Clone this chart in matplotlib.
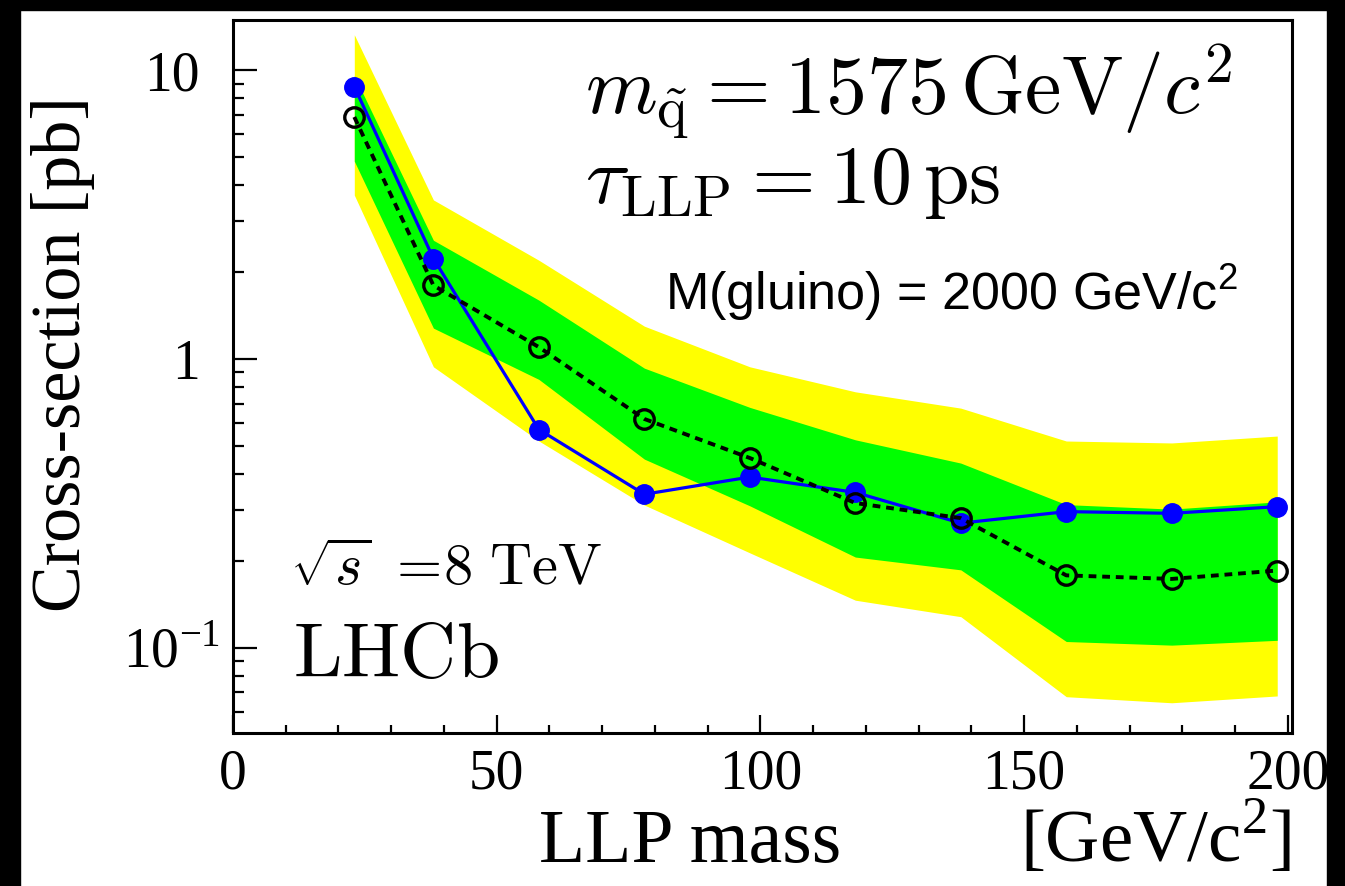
import matplotlib.pyplot as plt
from matplotlib.patches import Rectangle
from matplotlib.ticker import FixedLocator, LogLocator, NullFormatter, MultipleLocator
from matplotlib.transforms import ScaledTranslation

# LLP mass points [GeV/c^2]
mass = [23, 38, 58, 78, 98, 118, 138, 158, 178, 198]

# observed and expected upper limits on the cross-section [pb]
observed = [8.8, 2.23, 0.57, 0.34, 0.39, 0.345, 0.27, 0.296, 0.292, 0.308]
expected = [6.9, 1.8, 1.1, 0.62, 0.454, 0.317, 0.281, 0.178, 0.173, 0.185]

# +-1 sigma and +-2 sigma bands around the expected limit
green_lo = [4.85, 1.28, 0.85, 0.45, 0.31, 0.206, 0.186, 0.105, 0.102, 0.106]
green_hi = [9.6, 2.58, 1.6, 0.93, 0.68, 0.525, 0.436, 0.313, 0.302, 0.32]
yellow_lo = [3.7, 0.94, 0.52, 0.312, 0.213, 0.146, 0.128, 0.0676, 0.0644, 0.068]
yellow_hi = [13.3, 3.56, 2.2, 1.3, 0.94, 0.77, 0.676, 0.52, 0.512, 0.541]

W, H = 1345, 886
fig = plt.figure(figsize=(W / 100, H / 100), dpi=100)
ax = fig.add_axes([233 / W, 1 - 733 / H, (1292 - 233) / W, (733 - 20) / H])

serif = 'Liberation Serif'
plt.rcParams['mathtext.fontset'] = 'custom'
plt.rcParams['mathtext.rm'] = serif

ax.fill_between(mass, yellow_lo, yellow_hi, color='#ffff00', lw=0, zorder=1)
ax.fill_between(mass, green_lo, green_hi, color='#00ff00', lw=0, zorder=2)
ax.plot(mass, observed, color='#0000ff', lw=2.3, marker='o', ms=14,
        mfc='#0000ff', mec='#0000ff', zorder=3)
ax.plot(mass, expected, color='black', lw=2.8, dashes=(2.0, 1.5),
        marker='o', ms=14, mfc='none', mec='black', mew=2.4, zorder=4)

ax.set_yscale('log')
ax.set_xlim(0, 200.8)
ax.set_ylim(0.0506, 14.96)

# axis ticks
ax.xaxis.set_major_locator(MultipleLocator(50))
ax.xaxis.set_minor_locator(MultipleLocator(10))
ax.yaxis.set_major_locator(FixedLocator([0.1, 1, 10]))
ax.yaxis.set_minor_locator(LogLocator(base=10, subs=range(2, 10)))
ax.yaxis.set_minor_formatter(NullFormatter())
ax.set_yticklabels(['10$^{\\mathregular{-1}}$', '1', '10'])
ax.set_xticks([0, 50, 100, 150, 200])
ax.set_xticklabels(['0', '50', '100', '150', '200'])

ax.tick_params(axis='both', which='both', direction='in', width=1.6,
               top=False, right=False, labelsize=40)
ax.tick_params(axis='y', which='major', length=17, pad=24)
ax.tick_params(axis='y', which='minor', length=8)
ax.tick_params(axis='x', which='major', length=13, pad=11)
ax.tick_params(axis='x', which='minor', length=6)
for lab in ax.get_xticklabels() + ax.get_yticklabels():
    lab.set_family(serif)
# the exponent label sits a bit closer to the axis
low = ax.get_yticklabels()[0]
low.set_transform(low.get_transform() + ScaledTranslation(0.2, 0, fig.dpi_scale_trans))

for s in ax.spines.values():
    s.set_linewidth(2.2)
    s.set_color('black')

# axis titles
fig.text(63 / W, 1 - 354 / H, 'Cross-section [pb]', rotation=90, ha='center',
         va='center', fontsize=50.5, family=serif)
fig.text(690 / W, 1 - 862 / H, 'LLP mass', ha='center', va='baseline',
         fontsize=54.5, family=serif)
fig.text(1291 / W, 1 - 862 / H, '[GeV/c$^{\\mathregular{2}}$]', ha='right',
         va='baseline', fontsize=54, family=serif)

# model parameters, two lines in one block
params = (r'$m_{\tilde{\mathrm{q}}} = 1575\,\mathrm{GeV}/c^2$' + '\n'
          + r'$\tau_{\mathrm{LLP}} = 10\,\mathrm{ps}$')
fig.text(585 / W, 1 - 203 / H, params, ha='left', va='baseline',
         fontsize=59, linespacing=1.0, math_fontfamily='cm')
fig.text(665 / W, 1 - 310 / H, 'M(gluino) = 2000 GeV/c$^{\\mathregular{2}}$',
         ha='left', va='baseline', fontsize=37.5, family='Liberation Sans')
fig.text(290 / W, 1 - 585 / H, r'$\sqrt{s}\ =\!8\ \mathrm{TeV}$',
         ha='left', va='baseline', fontsize=42, math_fontfamily='cm')
fig.text(293 / W, 1 - 677 / H, r'$\mathrm{LHCb}$',
         ha='left', va='baseline', fontsize=56, math_fontfamily='cm')

# dark border around the picture
for x0, y0, w, h in [(0, 0, 20, H), (0, 0, W, 10), (1327, 0, W - 1327, H)]:
    fig.patches.append(Rectangle((x0 / W, 1 - (y0 + h) / H), w / W, h / H,
                                 transform=fig.transFigure, color='black',
                                 zorder=10))

fig.savefig('out.png', dpi=100)
